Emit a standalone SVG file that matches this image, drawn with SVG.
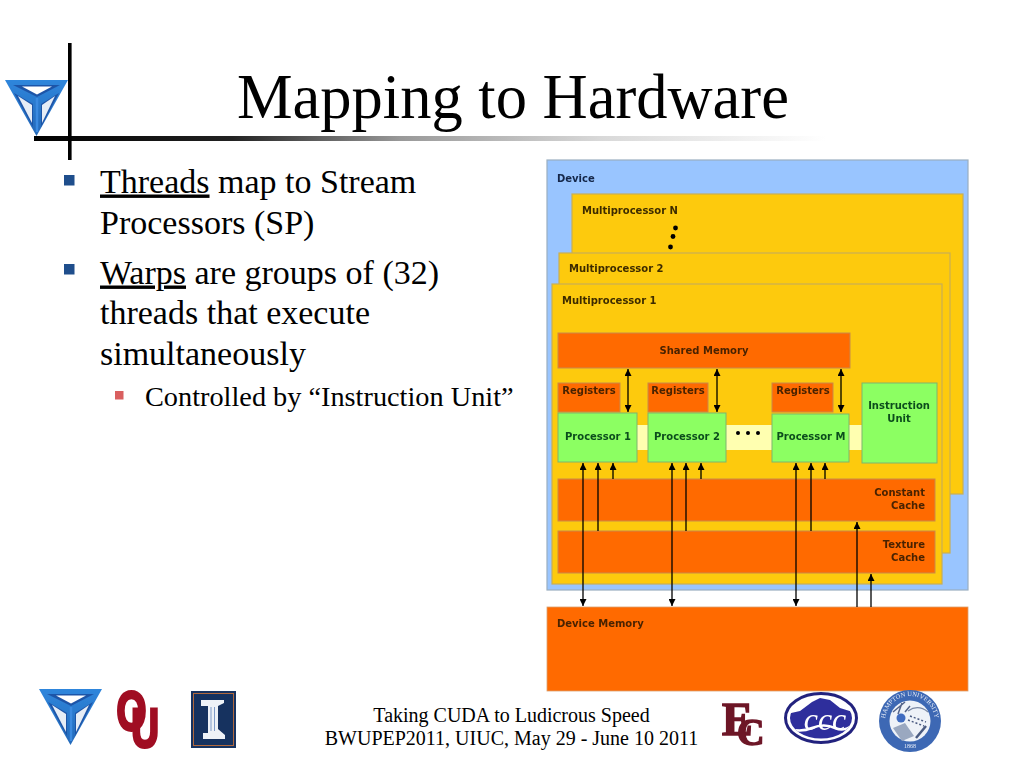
<svg xmlns="http://www.w3.org/2000/svg" width="1024" height="768" viewBox="0 0 1024 768">
<style>
.s{font-family:"Liberation Serif","Times New Roman",serif;fill:#000}
.title{font-size:62.500px}
.body{font-size:34px}
.sub{font-size:28.300px}
.foot{font-size:20px;text-anchor:middle}
.d{font-family:"DejaVu Sans",Verdana,sans-serif;font-weight:bold;font-size:10px}
.e{text-anchor:end}
.m{text-anchor:middle}
.mp{fill:#fdca0e;stroke:#c8ae55;stroke-width:1.2}
.or{fill:#ff6a00;stroke:#c98a4a;stroke-width:1}
.gr{fill:#8cff62;stroke:#7fb56e;stroke-width:1}
.ly{fill:#ffffb0}
.t1{fill:#4a2300}
.t2{fill:#0b4d1c}
.t3{fill:#3d2c00}
.a{stroke:#000;stroke-width:1.300;fill:none}
</style>
<defs>
<linearGradient id="rule" x1="0" x2="1" y1="0" y2="0">
<stop offset="0" stop-color="#000"/><stop offset="0.2" stop-color="#222"/><stop offset="0.37" stop-color="#999"/><stop offset="0.57" stop-color="#d8d8d8"/><stop offset="0.8" stop-color="#fff"/>
</linearGradient>
<linearGradient id="tri" x1="0" x2="0" y1="0" y2="1">
<stop offset="0" stop-color="#2f86dc"/><stop offset="1" stop-color="#2468b8"/>
</linearGradient>
<filter id="soft" x="-5%" y="-5%" width="110%" height="110%"><feGaussianBlur stdDeviation="0.45"/></filter>
<marker id="ah" viewBox="0 0 8 8" refX="8" refY="4" markerWidth="7" markerHeight="7" markerUnits="userSpaceOnUse" orient="auto-start-reverse"><path d="M0 0L8 4L0 8z" fill="#000"/></marker>
<clipPath id="ccc-clip"><ellipse cx="821" cy="718" rx="31" ry="20.500"/></clipPath>
<path id="seal-arc" d="M885 721A25 25 0 0 1 935 721"/>
<g id="logo">
<path d="M0 0H63L31.500 56Z" fill="url(#tri)"/>
<path d="M8 5H55L32 17Z" fill="#1f55a8"/>
<path d="M17 6.500H47L32 14.500Z" fill="#fff"/>
<path d="M9 13L28 24V47Z" fill="#1f55a8"/>
<path d="M54 13L36 24V47Z" fill="#1f55a8"/>
<path d="M13 16L27 25V43Z" fill="#e6edf6"/>
<path d="M50 16L37 25V43Z" fill="#e6edf6"/>
<path d="M32 18V52" stroke="#3a8ae0" stroke-width="2.500"/>
</g>
</defs>

<g id="slide-frame">
<rect x="34" y="136" width="990" height="5" fill="url(#rule)"/>
<rect x="68" y="43" width="3.600" height="117" fill="#000"/>
</g>
<g id="logo-top" filter="url(#soft)"><use href="#logo" x="5" y="80"/></g>

<g id="title"><text class="s title" x="237" y="118">Mapping to Hardware</text></g>

<g id="bullets">
<rect x="64" y="175" width="10.500" height="10.500" fill="#1f4e8c"/>
<text class="s body" x="100" y="192.500"><tspan text-decoration="underline">Threads</tspan> map to Stream</text>
<text class="s body" x="100" y="233.500">Processors (SP)</text>
<rect x="64" y="264" width="10.500" height="10.500" fill="#1f4e8c"/>
<text class="s body" x="100" y="283.500"><tspan text-decoration="underline">Warps</tspan> are groups of (32)</text>
<text class="s body" x="100" y="323.500">threads that execute</text>
<text class="s body" x="100" y="364.500">simultaneously</text>
<rect x="115" y="391" width="8.500" height="8.500" fill="#d95f5f"/>
<text class="s sub" x="145" y="406">Controlled by “Instruction Unit”</text>
</g>

<g id="diagram" filter="url(#soft)">
<g id="device"><rect x="547" y="160" width="421" height="430" fill="#99c5ff" stroke="#9aaec0" stroke-width="1.200"/><text class="d" x="557" y="182" fill="#14284a">Device</text></g>
<g id="mp-n"><rect class="mp" x="572" y="194" width="391" height="300"/><text class="d t3" x="582" y="214">Multiprocessor N</text>
<circle cx="675.500" cy="228" r="2.400" fill="#000"/><circle cx="673" cy="236.500" r="2.400" fill="#000"/><circle cx="670.500" cy="247" r="2.400" fill="#000"/></g>
<g id="mp-2"><rect class="mp" x="559" y="253" width="391" height="300"/><text class="d t3" x="569" y="272">Multiprocessor 2</text></g>
<g id="mp-1"><rect class="mp" x="552" y="284" width="390" height="300"/><text class="d t3" x="562" y="304">Multiprocessor 1</text></g>
<g id="shared-memory"><rect class="or" x="558" y="333" width="292" height="35"/><text class="d t1 m" x="704" y="354">Shared Memory</text></g>
<g id="bus"><rect class="ly" x="637" y="425" width="225" height="25"/>
<circle cx="738" cy="433" r="2" fill="#000"/><circle cx="748" cy="433" r="2" fill="#000"/><circle cx="758" cy="433" r="2" fill="#000"/></g>
<g id="reg-1"><rect class="or" x="558" y="383" width="62" height="29"/><text class="d t1 m" x="589" y="394">Registers</text></g>
<g id="reg-2"><rect class="or" x="648" y="383" width="60" height="29"/><text class="d t1 m" x="678" y="394">Registers</text></g>
<g id="reg-m"><rect class="or" x="772" y="383" width="61" height="29"/><text class="d t1 m" x="803" y="394">Registers</text></g>
<g id="proc-1"><rect class="gr" x="558" y="413" width="79" height="49"/><text class="d t2 m" x="598" y="440">Processor 1</text></g>
<g id="proc-2"><rect class="gr" x="648" y="413" width="78" height="49"/><text class="d t2 m" x="687" y="440">Processor 2</text></g>
<g id="proc-m"><rect class="gr" x="772" y="414" width="77" height="48"/><text class="d t2 m" x="811" y="440">Processor M</text></g>
<g id="instruction-unit"><rect class="gr" x="862" y="383" width="75" height="80"/><text class="d t2 m" x="899" y="409">Instruction</text><text class="d t2 m" x="899" y="422">Unit</text></g>
<g id="constant-cache"><rect class="or" x="558" y="479" width="377" height="42"/><text class="d t1 e" x="925" y="496">Constant</text><text class="d t1 e" x="925" y="509">Cache</text></g>
<g id="texture-cache"><rect class="or" x="558" y="531" width="377" height="42"/><text class="d t1 e" x="925" y="548">Texture</text><text class="d t1 e" x="925" y="561">Cache</text></g>
<g id="device-memory"><rect x="547" y="607" width="421" height="84" fill="#ff6a00" stroke="#d9a070" stroke-width="0.800"/><text class="d t1" x="557" y="627">Device Memory</text></g>
<g id="connectors">
<path class="a" d="M628 369V412" marker-start="url(#ah)" marker-end="url(#ah)"/>
<path class="a" d="M717 369V412" marker-start="url(#ah)" marker-end="url(#ah)"/>
<path class="a" d="M841 369V412" marker-start="url(#ah)" marker-end="url(#ah)"/>
<path class="a" d="M583 463V606" marker-start="url(#ah)" marker-end="url(#ah)"/>
<path class="a" d="M672 463V606" marker-start="url(#ah)" marker-end="url(#ah)"/>
<path class="a" d="M796 463V606" marker-start="url(#ah)" marker-end="url(#ah)"/>
<path class="a" d="M598 531V463" marker-end="url(#ah)"/>
<path class="a" d="M686 531V463" marker-end="url(#ah)"/>
<path class="a" d="M811 531V463" marker-end="url(#ah)"/>
<path class="a" d="M613 479V463" marker-end="url(#ah)"/>
<path class="a" d="M701 479V463" marker-end="url(#ah)"/>
<path class="a" d="M825 479V463" marker-end="url(#ah)"/>
<path class="a" d="M857 607V522" marker-end="url(#ah)"/>
<path class="a" d="M871 607V574" marker-end="url(#ah)"/>
</g>
</g>

<g id="footer">
<text class="s foot" x="511.500" y="722">Taking CUDA to Ludicrous Speed</text>
<text class="s foot" x="511.500" y="745">BWUPEP2011, UIUC, May 29 - June 10 2011</text>
</g>

<g id="logos" filter="url(#soft)">
<g id="logo-bottom"><use href="#logo" x="39" y="689"/></g>
<g id="logo-ou">
<text transform="translate(116.500,730) scale(0.7,1)" font-family="Liberation Sans,sans-serif" font-weight="bold" font-size="55" fill="#a00f24" stroke="#a00f24" stroke-width="3"><tspan x="0" y="0">O</tspan><tspan x="21" y="17">U</tspan></text>
</g>
<g id="logo-illinois">
<rect x="191" y="691" width="45" height="57" fill="#13305f"/>
<rect x="193.500" y="693.500" width="40" height="52" fill="none" stroke="#b0683c" stroke-width="1"/>
<path d="M201 700H224V703L218 706V729L225 735V739H203V733H208V706H201Z" fill="#eef2f7"/>
<path d="M211 707V731M214.500 707V731" stroke="#7e9bc8" stroke-width="1"/>
</g>
<g id="logo-ec">
<text font-family="Liberation Serif,serif" font-weight="bold" font-size="46" fill="#6d1426" stroke="#6d1426" stroke-width="1.500"><tspan x="722" y="735">E</tspan><tspan x="737" y="745" font-size="38">C</tspan></text>
</g>
<g id="logo-ccc">
<ellipse cx="821" cy="718" rx="35.500" ry="24.500" fill="#fff" stroke="#24247e" stroke-width="3"/>
<g clip-path="url(#ccc-clip)">
<path d="M786 714L800 711L812 702L820 698L830 700L840 708L856 713V745H786Z" fill="#2f2f9c"/>
<path d="M786 728Q800 733 812 728T835 728T856 722" fill="none" stroke="#fff" stroke-width="2.500"/>
</g>
<text x="825" y="730" font-family="Liberation Serif,serif" font-style="italic" font-size="32" fill="#fff" text-anchor="middle">ccc</text>
</g>
<g id="logo-seal">
<circle cx="910" cy="721" r="31" fill="#3d68b4"/>
<circle cx="910" cy="721" r="20.500" fill="#eef2f8"/>
<text font-family="Liberation Serif,serif" font-size="6.500" fill="#e8eef8" text-anchor="middle"><textPath href="#seal-arc" startOffset="50%">HAMPTON UNIVERSITY</textPath></text>
<text x="910" y="748" font-family="Liberation Serif,serif" font-size="6" fill="#e8eef8" text-anchor="middle">1868</text>
<circle cx="901" cy="718" r="4.500" fill="#3f6cc0"/>
<path d="M893 712L905 702M898 714L902 703M905 712L910 706" stroke="#54648a" stroke-width="1.500"/>
<path d="M908 711Q918 704 928 712" stroke="#7a88a4" stroke-width="1.200" fill="none"/>
<path d="M893 728L905 723L914 736L902 741Z" fill="#9aa8c0"/>
<path d="M910 716L926 722M908 720L924 726" stroke="#4a5a80" stroke-width="1.500" stroke-dasharray="2 2"/>
<path d="M916 738L926 726" stroke="#4a5a80" stroke-width="2.500"/>
</g>
</g>
</svg>
